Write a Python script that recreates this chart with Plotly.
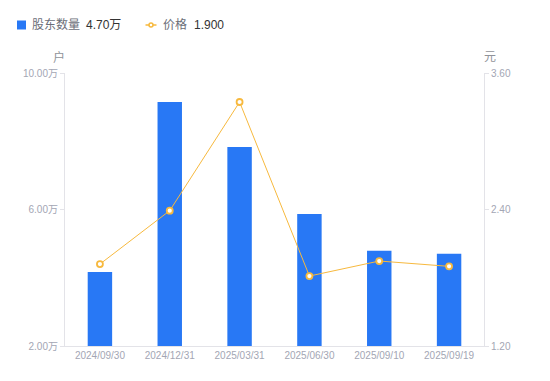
import plotly.graph_objects as go

dates = ["2024/09/30", "2024/12/31", "2025/03/31", "2025/06/30", "2025/09/10", "2025/09/19"]
holders = [4.17, 9.15, 7.83, 5.87, 4.79, 4.70]   # 万户
price = [1.92, 2.39, 3.345, 1.815, 1.947, 1.900]  # 元
left_ticks = [2, 6, 10]
left_labels = ["2.00万", "6.00万", "10.00万"]
right_ticks = [1.2, 2.4, 3.6]
right_labels = ["1.20", "2.40", "3.60"]

BLUE = "#2878F5"
ORANGE = "#F7B93E"
FONT = "Liberation Sans, Noto Sans CJK SC, sans-serif"
TICKC = "#A3A6B4"

fig = go.Figure()
fig.add_trace(go.Bar(x=dates, y=holders, marker=dict(color=BLUE, line=dict(width=0)),
                     width=0.35, name="股东数量", yaxis="y"))
fig.add_trace(go.Scatter(x=dates, y=price, mode="lines+markers", name="价格", yaxis="y2",
                         line=dict(color=ORANGE, width=1),
                         marker=dict(size=6, color="white", line=dict(color=ORANGE, width=1.8))))

# page body has an 8px margin; figure is sized/offset to compensate
fig.update_layout(
    width=542, height=373,
    margin=dict(l=57, r=66, t=65, b=35, autoexpand=False),
    plot_bgcolor="white", paper_bgcolor="white",
    showlegend=False,
    font=dict(family=FONT, size=10, color=TICKC),
    xaxis=dict(showgrid=False, showline=True, linecolor="#E3E3E8", linewidth=1,
               ticks="", tickfont=dict(size=10, color=TICKC), fixedrange=True, automargin=False),
    yaxis=dict(range=[2, 10], tickvals=left_ticks, ticktext=left_labels, showgrid=False,
               showline=True, linecolor="#E3E3E8", ticks="outside", ticklen=4, tickcolor="#E3E3E8",
               tickfont=dict(size=10, color=TICKC), zeroline=False, automargin=False),
    yaxis2=dict(range=[1.2, 3.6], tickvals=right_ticks, ticktext=right_labels, overlaying="y",
                side="right", showgrid=False, showline=True, linecolor="#E3E3E8",
                ticks="outside", ticklen=4, tickcolor="#E3E3E8",
                tickfont=dict(size=10, color=TICKC), zeroline=False, automargin=False),
)

# screen-pixel -> paper coords (plot area on screen: x 65..484, y 73..346)
def px(x):
    return (x - 65) / 419

def py(y):
    return (346 - y) / 273

def note(text, x, y, color, size=12, xanchor="left"):
    fig.add_annotation(text=text, x=px(x), y=py(y), xref="paper", yref="paper",
                       xanchor=xanchor, yanchor="middle", showarrow=False,
                       font=dict(size=size, color=color, family=FONT))

# axis unit titles
note("户", 59, 57, "#909399", 12, "center")
note("元", 490, 57, "#909399", 12, "center")

# legend (custom)
fig.add_shape(type="rect", xref="paper", yref="paper", x0=px(17), x1=px(26), y0=py(29.5), y1=py(20.5),
              fillcolor=BLUE, line=dict(width=0))
note("股东数量", 30, 25, "#6B6E78")
note(f"{holders[-1]:.2f}万", 84, 25, "#333333")
fig.add_shape(type="line", xref="paper", yref="paper", x0=px(145.5), x1=px(156.5), y0=py(25), y1=py(25),
              line=dict(color=ORANGE, width=1.5))
fig.add_shape(type="circle", xref="paper", yref="paper", x0=px(149), x1=px(153), y0=py(27), y1=py(23),
              fillcolor="white", line=dict(color=ORANGE, width=1.5))
note("价格", 161, 25, "#6B6E78")
note(f"{price[-1]:.3f}", 192, 25, "#333333")

fig.write_html("out.html")
